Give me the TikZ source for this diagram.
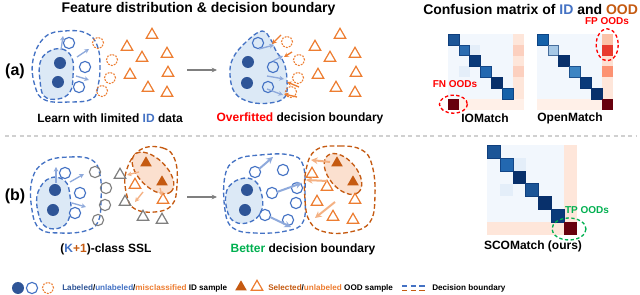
\documentclass[tikz,border=0pt]{standalone}
\usepackage{fontspec}
\setmainfont{Liberation Sans}
\usetikzlibrary{arrows.meta,shapes.geometric}
\definecolor{idblue}{HTML}{4472C4}
\definecolor{iddark}{HTML}{2F5597}
\definecolor{idfill}{HTML}{DCE9F6}
\definecolor{idarrow}{HTML}{8FAADC}
\definecolor{oodor}{HTML}{ED7D31}
\definecolor{ooddark}{HTML}{C55A11}
\definecolor{oodfill}{HTML}{FBE0CF}
\definecolor{oodarrow}{HTML}{F4B183}
\definecolor{grayc}{HTML}{7F7F7F}
\definecolor{sepgray}{HTML}{D0D0D0}
\definecolor{redt}{HTML}{FF0000}
\definecolor{greent}{HTML}{00B050}
% matrix colours
\definecolor{cmbg}{HTML}{F2F7FD}
\definecolor{cmfaint}{HTML}{E4EEF9}
\definecolor{cmlc}{HTML}{FEE6DA}
\definecolor{cmlr}{HTML}{FFF0E8}
\definecolor{bA}{HTML}{1C5597}
\definecolor{bB}{HTML}{2B6CB0}
\definecolor{bC}{HTML}{0A3A7A}
\definecolor{bD}{HTML}{2368B0}
\definecolor{bE}{HTML}{08306B}
\definecolor{bF}{HTML}{1561A9}
\definecolor{bL}{HTML}{A6C8E6}
\definecolor{bM}{HTML}{3D85C3}
\definecolor{dred}{HTML}{67000D}
\definecolor{rA}{HTML}{FBC2A8}
\definecolor{rB}{HTML}{E83B2E}
\definecolor{rC}{HTML}{FEE0D2}
\definecolor{rD}{HTML}{FC9272}
\definecolor{rE}{HTML}{FCD0BF}
\tikzset{
  idbound/.style={draw=idblue, dash pattern=on 3.5pt off 2pt, line width=1pt},
  oodbound/.style={draw=ooddark, dash pattern=on 3.5pt off 2pt, line width=1pt},
  labc/.style={circle, fill=iddark, minimum size=9pt, inner sep=0pt},
  unlc/.style={circle, draw=idblue, line width=0.85pt, fill=white, minimum size=8.4pt, inner sep=0pt},
  misc/.style={circle, draw=oodor, dash pattern=on 1.4pt off 0.9pt, line width=0.8pt, minimum size=8.4pt, inner sep=0pt},
  grc/.style={circle, draw=grayc, line width=0.85pt, minimum size=8.4pt, inner sep=0pt},
  otri/.style={regular polygon, regular polygon sides=3, draw=oodor, line width=0.9pt, minimum size=10pt, inner sep=0pt},
  gtri/.style={regular polygon, regular polygon sides=3, draw=grayc, line width=0.9pt, minimum size=10pt, inner sep=0pt},
  ftri/.style={regular polygon, regular polygon sides=3, fill=ooddark, minimum size=10pt, inner sep=0pt},
  idarr/.style={draw=idarrow, line width=1pt, -{Stealth[length=3.5pt,width=3.5pt]}},
  idarrb/.style={draw=idarrow, line width=1.5pt, -{Stealth[length=5pt,width=5pt]}},
  oarr/.style={draw=oodor, line width=1pt, -{Stealth[length=3.5pt,width=3.5pt]}},
  oarrb/.style={draw=oodarrow, line width=1.5pt, -{Stealth[length=5pt,width=5pt]}},
  oarrs/.style={draw=oodarrow, line width=1pt, -{Stealth[length=3.5pt,width=3.5pt]}},
  garr/.style={draw=grayc, line width=0.9pt, -{Stealth[length=4pt,width=3.5pt]}},
  ttl/.style={font=\fontsize{10.5}{12}\selectfont\bfseries, inner sep=0pt},
  sub/.style={font=\fontsize{9}{11}\selectfont\bfseries, inner sep=0pt},
  leg/.style={font=\fontsize{6.1}{8}\selectfont\bfseries, inner sep=0pt, anchor=west},
  oodlab/.style={font=\fontsize{7.5}{9}\selectfont\bfseries, inner sep=0pt},
}
\begin{document}
\begin{tikzpicture}[x=0.75pt,y=-0.75pt]
\useasboundingbox (0,0) rectangle (640,295);
\fill[white] (0,0) rectangle (640,295);

% titles
\node[ttl] (t1) at (198.5,9) {Feature distribution \& decision boundary};
\node[ttl, anchor=west] (t2) at (423,9) {Confusion matrix of \textcolor{idblue}{ID} and \textcolor{ooddark}{OOD}};
\node[font=\fontsize{12}{14}\selectfont\bfseries, inner sep=0pt] (pa) at (15,71) {(a)};
\node[font=\fontsize{12}{14}\selectfont\bfseries, inner sep=0pt] (pb) at (15,196) {(b)};

% ===== (a) left =====
\draw[idbound] plot[smooth cycle, tension=0.7] coordinates {(45,37) (65,31) (86,33) (97,45) (100,65) (98,86) (92,99) (70,102) (45,100) (35,86) (33,60)};
\draw[idbound, fill=idfill] plot[smooth cycle, tension=0.7] coordinates {(48,52) (62,49) (72,58) (73,76) (70,92) (58,99) (44,96) (40,80) (40,63)};
\node[labc] (al1) at (60,63) {};
\node[labc] (al2) at (58,82) {};
\node[unlc] (au1) at (69,43) {};
\node[unlc] (au2) at (85,67) {};
\node[unlc] (au3) at (79,87) {};
\draw[idarr] (61,50) -- (63,36);
\draw[idarr] (77,57) -- (89,49);
\draw[idarr] (76,76) -- (89,80);
\foreach \x/\y [count=\k] in {98/43,112/60,110/78,102/91}{\node[misc] (am\k) at (\x,\y) {};}
\foreach \x/\y [count=\k] in {152/35,127/47,142/58,167/54,130/75,168/73,148/88,167/93}{\node[otri] (at\k) at (\x,\y) {};}
\node[sub] (la1) at (110,118) {Learn with limited \textcolor{idblue}{ID} data};

\coordinate (ga1) at (187,70);
\coordinate (ga2) at (217,70);
\draw[garr] (ga1) -- (ga2);

% ===== (a) right =====
\draw[idbound, fill=idfill] plot[smooth cycle, tension=0.65] coordinates {(262,31) (271,40) (276,51) (284,63) (287,80) (285,97) (270,103) (250,102) (235,93) (230,75) (233,58) (246,42)};
\node[labc] (bl1) at (248,62) {};
\node[labc] (bl2) at (247,83) {};
\node[unlc, fill=none] (bu1) at (258,43) {};
\node[unlc, fill=none] (bu2) at (273,67) {};
\node[unlc, fill=none] (bu3) at (268,87) {};
\draw[idarr] (259,49) -- (274,45);
\draw[idarr] (273,61) -- (283,56);
\draw[idarr] (267,76) -- (284,79);
\draw[idarr] (267,89) -- (283,95);
\foreach \x/\y [count=\k] in {287/42,299/60,298/78,291/92}{\node[misc] (bm\k) at (\x,\y) {};}
\draw[oarr] (281,35) -- (272,44);
\draw[oarr] (292,52) -- (284,57);
\draw[oarr] (299,87) -- (287,82);
\draw[oarr] (297,97) -- (284,94);
\foreach \x/\y [count=\k] in {340/35,315/47,330/58,355/54,318/75,356/73,336/88,355/93}{\node[otri] (bt\k) at (\x,\y) {};}
\node[sub] (la2) at (300,118) {\textcolor{redt}{Overfitted} decision boundary};

% ===== separator =====
\draw[sepgray, line width=1.5pt, dash pattern=on 3pt off 2.5pt] (5,136) -- (636,136);

% ===== (b) left =====
\draw[idbound] plot[smooth cycle, tension=0.7] coordinates {(45,162) (70,157) (92,160) (100,175) (101,200) (98,222) (85,231) (60,233) (40,229) (32,210) (32,180)};
\draw[idbound, fill=idfill] plot[smooth cycle, tension=0.7] coordinates {(50,178) (65,181) (70,196) (70,215) (62,227) (46,227) (38,212) (38,192)};
\node[labc] (cl1) at (55,190) {};
\node[labc] (cl2) at (53,210) {};
\node[unlc] (cu1) at (65,173) {};
\node[unlc] (cu2) at (80,193) {};
\node[unlc] (cu3) at (75,213) {};
\draw[idarr] (56,183) -- (56,167);
\draw[idarr] (70,182) -- (84,174);
\draw[idarr] (72,203) -- (86,207);
\foreach \x/\y [count=\k] in {95/172,106/188,105/205,98/220}{\node[grc] (cg\k) at (\x,\y) {};}
\draw[oodbound] plot[smooth cycle, tension=0.7] coordinates {(140,150) (163,148) (175,160) (177,185) (172,205) (155,212) (135,209) (127,196) (126,172)};
\draw[oodbound, fill=oodfill, shift={(153,173)}, rotate=-45] (0,0) ellipse [x radius=26, y radius=14];
\node[ftri] (cf1) at (146,163) {};
\node[ftri] (cf2) at (162,182) {};
\node[otri] (co1) at (135,185) {};
\node[otri] (co2) at (163,200) {};
\foreach \x/\y [count=\k] in {120/175,125/202,143/217,162/220}{\node[gtri] (cgt\k) at (\x,\y) {};}
\draw[oarrs] (139,172) -- (127,175);
\draw[oarrs] (143,192) -- (135,202);
\draw[oarrs] (160,188) -- (162,196);
\node[sub] (lb1) at (106,249) {(\textcolor{idblue}{K}\textcolor{ooddark}{+1})-class SSL};

\coordinate (gb1) at (187,197);
\coordinate (gb2) at (217,197);
\draw[garr] (gb1) -- (gb2);

% ===== (b) right =====
\draw[idbound] plot[smooth cycle, tension=0.7] coordinates {(236,160) (260,155) (290,155) (303,165) (305,195) (303,222) (286,231) (255,233) (233,228) (225,210) (225,176)};
\draw[idbound, fill=idfill] plot[smooth cycle, tension=0.7] coordinates {(240,179) (255,181) (262,196) (261,212) (250,222) (235,222) (227,210) (227,190)};
\node[labc] (dl1) at (247,190) {};
\node[labc] (dl2) at (245,210) {};
\foreach \x/\y [count=\k] in {255/172,283/170,272/193,297/188,296/203,265/215,288/220}{\node[unlc, fill=none] (du\k) at (\x,\y) {};}
\draw[idarrb] (259,169) -- (273,157);
\draw[idarrb] (277,192) -- (302,183);
\draw[idarrb] (270,217) -- (291,227);
\draw[oodbound] plot[smooth cycle, tension=0.7] coordinates {(316,150) (340,146) (362,150) (372,165) (375,195) (370,222) (350,232) (325,232) (310,222) (305,200) (306,170)};
\draw[oodbound, fill=oodfill, shift={(343,174)}, rotate=-50] (0,0) ellipse [x radius=24, y radius=14];
\node[ftri] (df1) at (337,163) {};
\node[ftri] (df2) at (353,182) {};
\foreach \x/\y [count=\k] in {312/174,327/187,317/202,355/200,333/217,353/220}{\node[otri] (dt\k) at (\x,\y) {};}
\draw[oarrb] (330,162) -- (311,160);
\draw[oarrb] (327,181) -- (306,180);
\draw[oarrb] (335,202) -- (315,218);
\node[sub] (lb2) at (303,249) {\textcolor{greent}{Better} decision boundary};

% ===== IOMatch matrix =====
\fill[cmbg] (448,34) rectangle ++(64.8,64.8);
\fill[cmfaint] (469.6,44.8) rectangle ++(10.8,10.8);
\fill[cmfaint] (458.8,66.4) rectangle ++(10.8,10.8);
\fill[cmlc] (512.8,34) rectangle ++(10.8,64.8);
\fill[rE] (512.8,44.8) rectangle ++(10.8,10.8);
\fill[rE] (512.8,66.4) rectangle ++(10.8,10.8);
\fill[cmlr] (448,98.8) rectangle ++(75.6,10.8);
\foreach \i/\c in {0/bA,1/bB,2/bC,3/bD,4/bE,5/bF}{\fill[\c, draw=bE!60!\c, line width=0.3pt] ({448+\i*10.8},{34+\i*10.8}) rectangle ++(10.8,10.8);}
\fill[dred] (448,98.8) rectangle ++(10.8,10.8);
\node[oodlab, text=redt] (fn) at (455,84) {FN OODs};
\draw[redt, line width=1pt, dash pattern=on 2.5pt off 1.8pt] (453.4,104.2) ellipse [x radius=14, y radius=9];
\node[sub] (lio) at (485,118) {IOMatch};

% ===== OpenMatch matrix =====
\fill[cmbg] (537,34) rectangle ++(64.8,64.8);
\fill[cmlr] (537,98.8) rectangle ++(64.8,10.8);
\fill[cmlc] (601.8,34) rectangle ++(10.8,64.8);
\fill[rA] (601.8,34) rectangle ++(10.8,10.8);
\fill[rB] (601.8,44.8) rectangle ++(10.8,10.8);
\fill[rC] (601.8,55.6) rectangle ++(10.8,10.8);
\fill[rD] (601.8,66.4) rectangle ++(10.8,10.8);
\foreach \i/\c in {0/bF,1/bL,2/bE,3/bM,4/bC,5/bE}{\fill[\c, draw=bE!60!\c, line width=0.3pt] ({537+\i*10.8},{34+\i*10.8}) rectangle ++(10.8,10.8);}
\fill[dred] (601.8,98.8) rectangle ++(10.8,10.8);
\node[oodlab, text=redt] (fp) at (607,21) {FP OODs};
\draw[redt, line width=1pt, dash pattern=on 2.5pt off 1.8pt] (607.2,44.8) ellipse [x radius=11, y radius=16];
\node[sub] (lom) at (570,118) {OpenMatch};

% ===== SCOMatch matrix =====
\fill[cmbg] (487,145) rectangle ++(77.16,77.16);
\fill[cmfaint] (512.7,157.86) rectangle ++(12.86,12.86);
\fill[cmfaint] (499.86,183.58) rectangle ++(12.86,12.86);
\fill[cmlc] (564.16,145) rectangle ++(12.86,77.16);
\fill[cmlc] (487,222.16) rectangle ++(77.16,12.86);
\foreach \i/\c in {0/bA,1/bD,2/bE,3/bA,4/bE,5/bC}{\fill[\c, draw=bE!60!\c, line width=0.3pt] ({487+\i*12.86},{145+\i*12.86}) rectangle ++(12.86,12.86);}
\fill[dred] (564.16,222.16) rectangle ++(12.86,12.86);
\node[oodlab, text=greent] (tp) at (587,210) {TP OODs};
\draw[greent, line width=1pt, dash pattern=on 2.5pt off 1.8pt] (569,229) ellipse [x radius=17, y radius=11];
\node[sub] (lsc) at (533,246) {SCOMatch (ours)};

% ===== legend =====
\node[labc] (g1) at (18,288) {};
\node[unlc] (g2) at (32,288) {};
\node[misc] (g3) at (48,288) {};
\node[leg] (gt1) at (62,288) {\textcolor{iddark}{Labeled}/\textcolor{idblue}{unlabeled}/\textcolor{oodor}{misclassified} ID sample};
\node[ftri] (g4) at (241,287) {};
\node[otri] (g5) at (257,287) {};
\node[leg] (gt2) at (268,288) {\textcolor{ooddark}{Selected}/\textcolor{oodor}{unlabeled} OOD sample};
\coordinate (d1) at (402,286);
\coordinate (d2) at (425,286);
\coordinate (d3) at (402,290.5);
\coordinate (d4) at (425,290.5);
\draw[idblue, line width=1pt, dash pattern=on 4pt off 2.5pt] (d1) -- (d2);
\draw[ooddark, line width=1pt, dash pattern=on 4pt off 2.5pt] (d3) -- (d4);
\node[leg] (gt3) at (432,288) {Decision boundary};
\end{tikzpicture}
\end{document}
